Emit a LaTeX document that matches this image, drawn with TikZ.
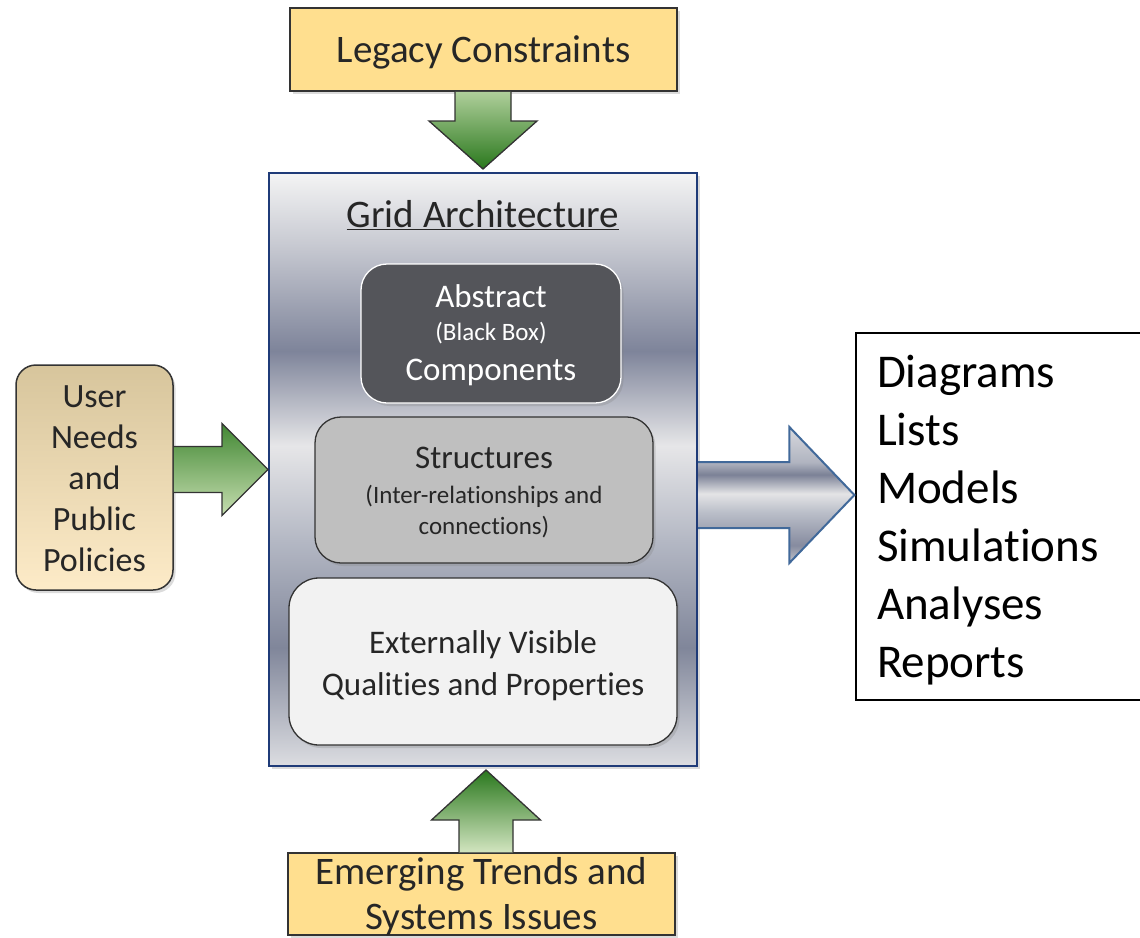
\documentclass[tikz,border=0pt]{standalone}
\usepackage{fontspec}
\setmainfont{Carlito}[Ligatures=NoCommon]
\usetikzlibrary{calc,shadows}

\definecolor{gold}{HTML}{FFDF8F}
\definecolor{boxline}{HTML}{333333}
\definecolor{txt}{HTML}{262626}
\definecolor{usertop}{HTML}{D7C59C}
\definecolor{userbot}{HTML}{FDEBC8}
\definecolor{gdark}{HTML}{2A781D}
\definecolor{glight}{HTML}{C6DEB0}
\definecolor{absfill}{HTML}{54555A}
\definecolor{strfill}{HTML}{BFBFBF}
\definecolor{extfill}{HTML}{F2F2F2}
\definecolor{mainline}{HTML}{1F3B78}
\definecolor{arrline}{HTML}{41699A}
% main box metallic stops
\definecolor{mTop}{HTML}{F4F4F4}
\definecolor{mMidA}{HTML}{C8CAD2}
\definecolor{mDarkA}{HTML}{7E849A}
\definecolor{mLight}{HTML}{E6E6E8}
\definecolor{mMidB}{HTML}{B4B8C4}
\definecolor{mDarkB}{HTML}{80869A}
\definecolor{mBot}{HTML}{DCDDE1}
% gray arrow stops
\definecolor{gA}{HTML}{D8D9DE}
\definecolor{gB}{HTML}{B0B4C0}
\definecolor{gC}{HTML}{7B8196}
\definecolor{gD}{HTML}{E4E4E6}
\definecolor{gE}{HTML}{BCC0CA}
\definecolor{gF}{HTML}{868B9F}
\definecolor{gG}{HTML}{C4C6CC}

\pgfdeclareverticalshading{mainmetal}{100bp}{color(0bp)=(mBot); color(25bp)=(mBot); color(35bp)=(mDarkB); color(44bp)=(mMidB); color(52bp)=(mLight); color(60bp)=(mDarkA); color(69bp)=(mMidA); color(75bp)=(mTop); color(100bp)=(mTop)}
\pgfdeclareverticalshading{arrowmetal}{100bp}{color(0bp)=(gG); color(25bp)=(gG); color(31.5bp)=(gF); color(44bp)=(gE); color(50.5bp)=(gD); color(57.5bp)=(gC); color(62bp)=(gB); color(75bp)=(gA); color(100bp)=(gA)}

\begin{document}
\begin{tikzpicture}[x=1pt,y=-1pt,
  shad/.style={drop shadow={opacity=0.28,shadow xshift=2.5pt,shadow yshift=-3pt}},
  yellowbox/.style={draw=boxline,line width=1.5pt,fill=gold,text=txt,align=center,inner sep=0pt,
    font=\fontsize{39}{45}\selectfont,shad},
  innerbox/.style={rounded corners=26pt,line width=1.3pt,align=center,inner sep=0pt,shad},
  greenarrow/.style={draw=boxline,line width=1.3pt,line join=miter},
  greyarrow/.style={draw=arrline,line width=2pt,line join=miter,shading=arrowmetal}
]
\useasboundingbox (0,0) rectangle (1140,937);
\clip (0,0) rectangle (1140,937);
\fill[white] (0,0) rectangle (1140,937);

% main box
\node[draw=mainline,line width=2pt,shading=mainmetal,minimum width=428pt,minimum height=593pt,inner sep=0pt,shad]
  (main) at (483,469.5) {};
\node[text=txt,font=\fontsize{39}{45}\selectfont] (gridlbl) at (483,215) {\underline{Grid Architecture}};

\node[innerbox,draw=white,fill=absfill,text=white,minimum width=260pt,minimum height=139pt,
  font=\fontsize{33}{33}\selectfont]
  (abs) at (491,333.5) {\rule{0pt}{26pt}Abstract\\{\fontsize{25}{25}\selectfont (Black Box)}\\[6.5pt]Components};
\node[innerbox,draw=boxline,fill=strfill,text=txt,minimum width=338pt,minimum height=146pt,
  font=\fontsize{33}{33}\selectfont]
  (struct) at (484,490) {\rule{0pt}{27pt}Structures\\[2pt]{\fontsize{25}{25}\selectfont (Inter-relationships and}\\[-2pt]{\fontsize{25}{25}\selectfont connections)}};
\node[innerbox,draw=boxline,fill=extfill,text=txt,minimum width=388pt,minimum height=167pt,
  font=\fontsize{33}{42}\selectfont,rounded corners=30pt]
  (ext) at (483,661.5) {\rule{0pt}{31pt}Externally Visible\\Qualities and Properties};

% top and bottom boxes
\node[yellowbox,minimum width=387pt,minimum height=83pt,text depth=0pt] (legacy) at (483.5,49.5) {Legacy Constraints};
\node[yellowbox,minimum width=387pt,minimum height=82pt] (emerging) at (481.5,894)
  {\rule{0pt}{25pt}\smash{Emerging Trends and}\\\smash{Systems Issues}};

% user box
\node[draw=boxline,line width=1.5pt,rounded corners=20pt,top color=usertop,bottom color=userbot,
  minimum width=157pt,minimum height=225pt,inner sep=0pt,align=center,text=txt,
  font=\fontsize{34}{41}\selectfont,shad]
  (user) at (94.5,477.5) {\rule{0pt}{25pt}User\\Needs\\and\\Public\\Policies};

% output box
\node[draw=black,line width=1.2pt,fill=white,minimum width=289pt,minimum height=367pt,
  text width=247pt,inner xsep=21pt,inner ysep=0pt,align=left,font=\fontsize{47}{58}\selectfont]
  (out) at (1000.5,516.5) {\rule{0pt}{40pt}Diagrams\\Lists\\Models\\Simulations\\Analyses\\Reports};

% green arrow down
\path (legacy.south) coordinate (d0) (main.north) coordinate (d1);
\draw[greenarrow,top color=glight!85!gdark,bottom color=gdark]
  ($(d0 -| d1)+(28,0)$) -- ($(d1)+(28,-51)$) -- ($(d1)+(54,-51)$) -- ($(d1)+(0,-3)$)
  -- ($(d1)+(-54,-51)$) -- ($(d1)+(-28,-51)$) -- ($(d0 -| d1)+(-28,0)$);

% green arrow right
\path (main.west) coordinate (r1) (user.east |- main.west) coordinate (r0);
\draw[greenarrow,top color=gdark!85!glight,bottom color=glight]
  ($(r0)+(0,-23)$) -- ($(r1)+(-46,-23)$) -- ($(r1)+(-46,-46)$) -- (r1)
  -- ($(r1)+(-46,46)$) -- ($(r1)+(-46,23)$) -- ($(r0)+(0,23)$);

% green arrow up
\path ($(main.south)+(3,3)$) coordinate (u1);
\path (u1 |- emerging.north) coordinate (u0);
\draw[greenarrow,top color=gdark,bottom color=glight!80!white]
  ($(u0)+(-27,0)$) -- ($(u1)+(-27,50)$) -- ($(u1)+(-54.5,50)$) -- (u1)
  -- ($(u1)+(54.5,50)$) -- ($(u1)+(27,50)$) -- ($(u0)+(27,0)$);

% grey arrow to outputs
\path ($(out.west)+(-1,-21.5)$) coordinate (g1);
\path (main.east |- g1) coordinate (g0);
\draw[greyarrow]
  ($(g0)+(0,-33)$) -- ($(g1)+(-65,-33)$) -- ($(g1)+(-65,-68)$) -- (g1)
  -- ($(g1)+(-65,68)$) -- ($(g1)+(-65,33)$) -- ($(g0)+(0,33)$);
\end{tikzpicture}
\end{document}
